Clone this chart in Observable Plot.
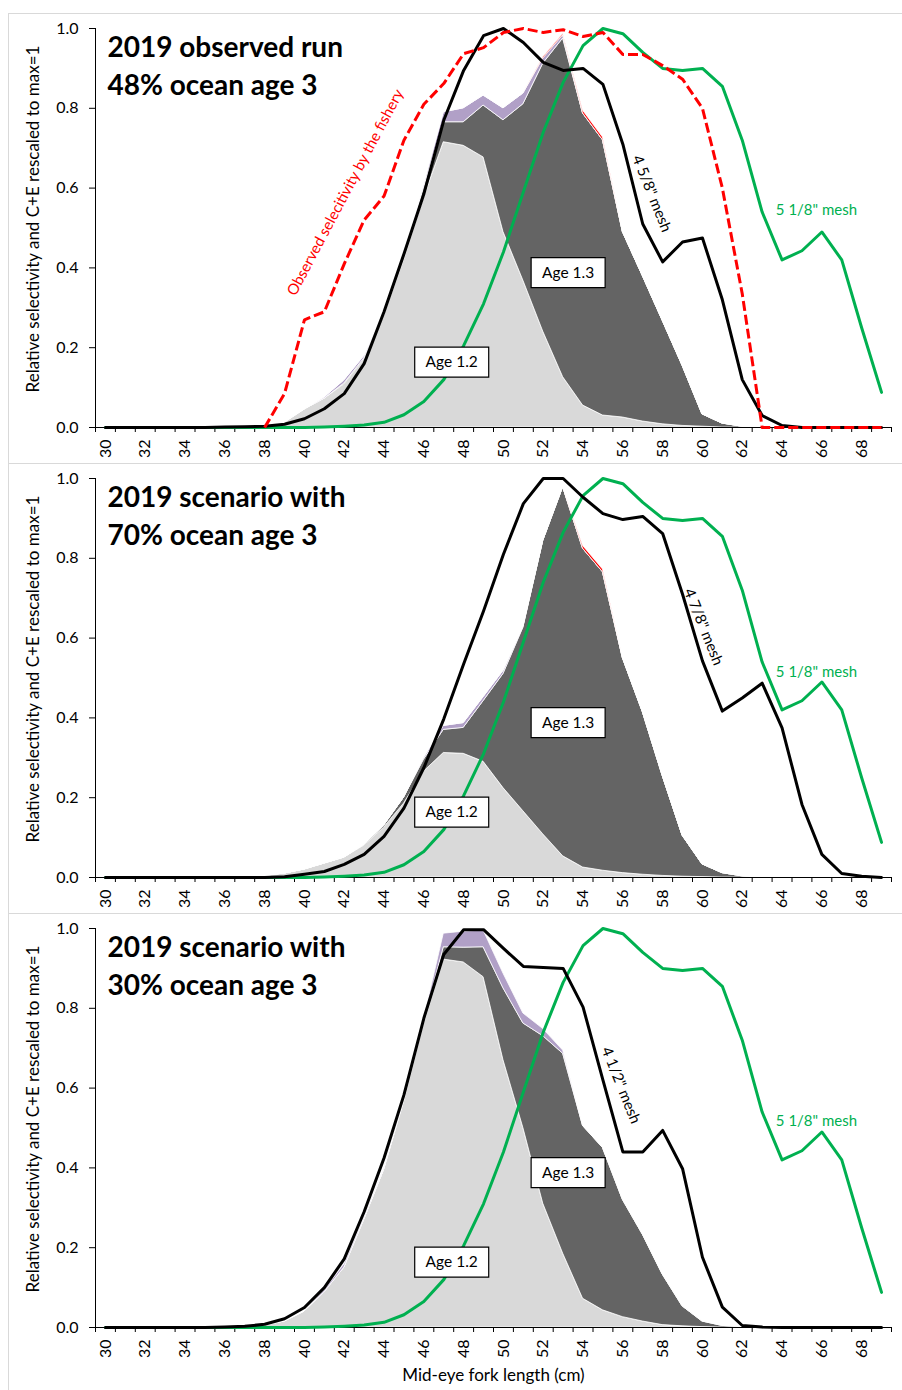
<!DOCTYPE html>
<html>
<head>
<meta charset="utf-8">
<script src="https://cdn.jsdelivr.net/npm/d3@7"></script>
<script src="https://cdn.jsdelivr.net/npm/@observablehq/plot@0.6"></script>
<style>
  html, body { margin: 0; padding: 0; background: #fff; }
  body { width: 902px; height: 1390px; position: relative; overflow: hidden; font-family: Lato, "Open Sans", sans-serif; }
  .panel { position: absolute; left: 8px; width: 905px; border: 1px solid #d9d9d9; box-sizing: border-box; }
  .chart { position: absolute; left: 0; }
  .chart svg { overflow: visible; }
</style>
</head>
<body>
<div class="panel" style="top:13px;height:451px"></div>
<div class="panel" style="top:463px;height:451px"></div>
<div class="panel" style="top:913px;height:490px"></div>
<div id="c1" class="chart" style="top:13px"></div>
<div id="c2" class="chart" style="top:463px"></div>
<div id="c3" class="chart" style="top:913px"></div>
<script>
// ---------- categories & ticks ----------
const lengthsCm = [30,31,32,33,34,35,36,37,38,39,40,41,42,43,44,45,46,47,48,49,50,51,52,53,54,55,56,57,58,59,60,61,62,63,64,65,66,67,68,69];
const xTickLabels = [30,32,34,36,38,40,42,44,46,48,50,52,54,56,58,60,62,64,66,68];
const xTickBounds = [29.5,30.5,31.5,32.5,33.5,34.5,35.5,36.5,37.5,38.5,39.5,40.5,41.5,42.5,43.5,44.5,45.5,46.5,47.5,48.5,49.5,50.5,51.5,52.5,53.5,54.5,55.5,56.5,57.5,58.5,59.5,60.5,61.5,62.5,63.5,64.5,65.5,66.5,67.5,68.5,69.5];
const yTickValues = [0, 0.2, 0.4, 0.6, 0.8, 1.0];
const ageClasses = ["Age 1.2", "Age 1.3", "Age 1.1", "Age 1.4"];
const ageColors = ["#d9d9d9", "#646464", "#b1a0c7", "#ff0000"];

// ---------- series ----------
// 5 1/8" mesh selectivity (same in all panels)
const mesh518 = [0,0,0,0,0,0,0,0,0,0,0,0.001,0.003,0.006,0.013,0.032,0.065,0.12,0.205,0.31,0.44,0.59,0.74,0.865,0.957,1.0,0.987,0.94,0.90,0.895,0.90,0.855,0.72,0.54,0.42,0.443,0.49,0.42,0.25,0.088];

// Panel 1: 2019 observed run
const mesh458 = [0,0,0,0,0,0,0.001,0.002,0.003,0.008,0.022,0.047,0.085,0.16,0.29,0.435,0.585,0.77,0.895,0.982,1.0,0.965,0.915,0.895,0.90,0.86,0.71,0.51,0.415,0.465,0.475,0.32,0.12,0.03,0.005,0,0,0,0,0];
const observedSel = [null,null,null,null,null,null,null,null,0,0.085,0.27,0.29,0.41,0.52,0.58,0.72,0.81,0.862,0.937,0.952,0.99,1.0,0.99,0.997,0.98,0.99,0.935,0.935,0.907,0.873,0.80,0.60,0.335,0,0,0,0,0,0,0];
const p1Age12 = [0,0,0,0,0,0,0,0.001,0.003,0.012,0.045,0.072,0.108,0.17,0.28,0.42,0.575,0.715,0.706,0.677,0.49,0.368,0.24,0.126,0.055,0.03,0.025,0.015,0.008,0.004,0.002,0,0,0,0,0,0,0,0,0];
const p1Age13 = [0,0,0,0,0,0,0,0,0,0,0,0,0.002,0.003,0.005,0.01,0.025,0.05,0.059,0.13,0.28,0.442,0.672,0.849,0.732,0.69,0.465,0.365,0.26,0.151,0.031,0.01,0.002,0,0,0,0,0,0,0];
const p1Age11 = [0,0,0,0,0,0,0,0,0,0,0,0.003,0.008,0.006,0.004,0.004,0.008,0.025,0.035,0.025,0.03,0.027,0.013,0.008,0,0,0,0,0,0,0,0,0,0,0,0,0,0,0,0];
const p1Age14 = [0,0,0,0,0,0,0,0,0,0,0,0,0,0,0,0,0,0,0,0,0,0,0.003,0.003,0.007,0.007,0,0,0,0,0,0,0,0,0,0,0,0,0,0];

// Panel 2: scenario 70% ocean age 3
const mesh478 = [0,0,0,0,0,0,0,0,0,0.002,0.008,0.015,0.033,0.058,0.103,0.174,0.275,0.397,0.535,0.668,0.81,0.937,1.0,1.0,0.953,0.912,0.897,0.905,0.862,0.71,0.543,0.417,0.45,0.487,0.375,0.183,0.058,0.01,0.003,0];
const p2Age12 = [0,0,0,0,0,0,0,0,0.004,0.01,0.02,0.035,0.05,0.08,0.125,0.185,0.265,0.312,0.31,0.29,0.224,0.166,0.108,0.053,0.025,0.017,0.011,0.007,0.004,0.002,0.001,0,0,0,0,0,0,0,0,0];
const p2Age13 = [0,0,0,0,0,0,0,0,0,0,0,0,0,0.002,0.005,0.015,0.03,0.058,0.065,0.152,0.286,0.46,0.736,0.925,0.799,0.748,0.539,0.408,0.251,0.103,0.032,0.011,0.003,0,0,0,0,0,0,0];
const p2Age11 = [0,0,0,0,0,0,0,0,0,0,0,0,0,0,0,0,0.005,0.01,0.012,0.01,0.008,0.003,0,0,0,0,0,0,0,0,0,0,0,0,0,0,0,0,0,0];
const p2Age14 = [0,0,0,0,0,0,0,0,0,0,0,0,0,0,0,0,0,0,0,0,0,0,0,0,0.007,0.007,0,0,0,0,0,0,0,0,0,0,0,0,0,0];

// Panel 3: scenario 30% ocean age 3
const mesh412 = [0,0,0,0,0,0,0.001,0.003,0.008,0.022,0.05,0.1,0.172,0.29,0.425,0.583,0.775,0.935,0.997,0.997,0.95,0.905,0.902,0.90,0.803,0.62,0.44,0.44,0.494,0.398,0.176,0.051,0.005,0.001,0,0,0,0,0,0];
const p3Age12 = [0,0,0,0,0,0,0.001,0.002,0.005,0.015,0.04,0.088,0.15,0.27,0.395,0.565,0.76,0.922,0.915,0.878,0.67,0.50,0.31,0.185,0.072,0.043,0.026,0.015,0.006,0.003,0.001,0,0,0,0,0,0,0,0,0];
const p3Age13 = [0,0,0,0,0,0,0,0,0,0,0,0,0,0,0,0.002,0.005,0.031,0.037,0.075,0.18,0.262,0.42,0.501,0.433,0.407,0.294,0.218,0.127,0.05,0.014,0.004,0.001,0,0,0,0,0,0,0];
const p3Age11 = [0,0,0,0,0,0,0,0,0,0,0,0.004,0.008,0.004,0.003,0.003,0.006,0.034,0.04,0.042,0.037,0.025,0.018,0.008,0,0,0,0,0,0,0,0,0,0,0,0,0,0,0,0];

// ---------- annotations ----------
const titles = ["2019 observed run\n48% ocean age 3", "2019 scenario with\n70% ocean age 3", "2019 scenario with\n30% ocean age 3"];
const meshLabels = [
  {x: 57.45, y: 0.586, text: '4 5/8" mesh'},
  {x: 60.05, y: 0.628, text: '4 7/8" mesh'},
  {x: 55.9, y: 0.607, text: '4 1/2" mesh'}
];
const greenLabels = [
  {x: 65.73, y: 0.544, text: '5 1/8" mesh'},
  {x: 65.73, y: 0.514, text: '5 1/8" mesh'},
  {x: 65.73, y: 0.516, text: '5 1/8" mesh'}
];
const ageLabels = [
  {x: 47.4, y: 0.164, text: "Age 1.2"},
  {x: 53.25, y: 0.388, text: "Age 1.3"}
];
const observedLabel = [{x: 42.06, y: 0.589, text: "Observed selecitivity by the fishery"}];
const yTitle = "Relative selectivity and C+E rescaled to max=1";
const xTitle = "Mid-eye fork length (cm)";

// white label box as a custom symbol (74 x 30 px)
const boxSymbol = {
  draw(ctx) {
    ctx.moveTo(-37, -15); ctx.lineTo(37, -15); ctx.lineTo(37, 15); ctx.lineTo(-37, 15); ctx.closePath();
  }
};

function buildPanel(cfg) {
  const rows = lengthsCm.map((len, i) => ({
    len, mesh: cfg.mesh[i], green: mesh518[i], obs: cfg.observed ? cfg.observed[i] : null
  }));
  const stackRows = [];
  cfg.ages.forEach((arr, k) => {
    if (!arr) return;
    lengthsCm.forEach((len, i) => stackRows.push({len, age: ageClasses[k], value: arr[i]}));
  });
  const height = cfg.height;
  const marks = [
    Plot.areaY(stackRows, {x: "len", y: "value", fill: "age", order: ageClasses, stroke: "white", strokeWidth: 0.8}),
    Plot.ruleX([29.5], {stroke: "black", strokeWidth: 1}),
    Plot.ruleY([0], {stroke: "black", strokeWidth: 1}),
    Plot.axisY(yTickValues, {anchor: "left", tickSize: 6, tickPadding: 11, tickFormat: d3.format(".1f"), fontSize: 16, label: null, stroke: "black"}),
    Plot.axisX(xTickBounds, {anchor: "bottom", tickSize: 5, tickFormat: () => "", label: null, stroke: "black"}),
    Plot.axisX(xTickLabels, {anchor: "bottom", tickSize: 0, tickPadding: 12, tickRotate: -90, fontSize: 16, label: null}),
    Plot.line(rows, {x: "len", y: "green", stroke: "#00b050", strokeWidth: 3, strokeLinejoin: "round"}),
    Plot.line(rows, {x: "len", y: "mesh", stroke: "black", strokeWidth: 3, strokeLinejoin: "round"})
  ];
  if (cfg.observed) {
    marks.push(Plot.line(rows, {filter: d => d.obs != null, x: "len", y: "obs", stroke: "#ff0000", strokeWidth: 3, strokeDasharray: "10,4", strokeLinecap: "butt"}));
    marks.push(Plot.text(observedLabel, {x: "x", y: "y", text: "text", rotate: -62, fill: "#ff0000", fontSize: 15}));
  }
  marks.push(
    Plot.text([cfg.mesh_label], {x: "x", y: "y", text: "text", rotate: 68, fill: "black", fontSize: 15}),
    Plot.text([cfg.green_label], {x: "x", y: "y", text: "text", fill: "#00b050", fontSize: 15}),
    Plot.dot(ageLabels, {x: "x", y: "y", symbol: boxSymbol, r: 10, fill: "white", stroke: "black", strokeWidth: 1.2}),
    Plot.text(ageLabels, {x: "x", y: "y", text: "text", fill: "black", fontSize: 15.5}),
    Plot.text([cfg.title], {frameAnchor: "top-left", textAnchor: "start", lineAnchor: "top", dx: 12, dy: 1, fontSize: 28, fontWeight: "bold", lineHeight: 1.37, fill: "black"}),
    Plot.text([yTitle], {frameAnchor: "left", rotate: -90, textAnchor: "middle", dx: -62, dy: -9, fontSize: 17, fill: "black"})
  );
  if (cfg.xTitle) {
    marks.push(Plot.text([cfg.xTitle], {frameAnchor: "bottom", lineAnchor: "middle", dy: 48, fontSize: 17, fill: "black"}));
  }
  return Plot.plot({
    width: 902,
    height,
    marginLeft: 95,
    marginRight: 11,
    marginTop: 15,
    marginBottom: height - 15 - 399,
    x: {domain: [29.5, 69.5], axis: null, label: null},
    y: {domain: [0, 1], axis: null, label: null},
    color: {domain: ageClasses, range: ageColors},
    style: {fontFamily: "Lato, 'Open Sans', sans-serif", background: "transparent", color: "black"},
    marks
  });
}

document.getElementById("c1").appendChild(buildPanel({
  height: 450, mesh: mesh458, observed: observedSel,
  ages: [p1Age12, p1Age13, p1Age11, p1Age14],
  title: titles[0], mesh_label: meshLabels[0], green_label: greenLabels[0]
}));
document.getElementById("c2").appendChild(buildPanel({
  height: 450, mesh: mesh478, observed: null,
  ages: [p2Age12, p2Age13, p2Age11, p2Age14],
  title: titles[1], mesh_label: meshLabels[1], green_label: greenLabels[1]
}));
document.getElementById("c3").appendChild(buildPanel({
  height: 477, mesh: mesh412, observed: null,
  ages: [p3Age12, p3Age13, p3Age11, null],
  title: titles[2], mesh_label: meshLabels[2], green_label: greenLabels[2], xTitle: xTitle
}));
</script>
</body>
</html>
